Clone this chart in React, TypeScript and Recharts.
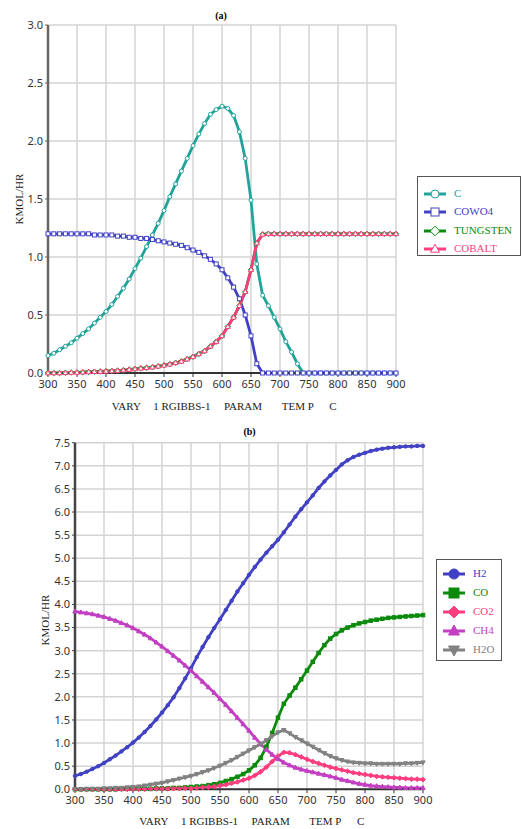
import { LineChart, Line, XAxis, YAxis, CartesianGrid } from 'recharts';

// temperature steps, C
const temps = [
    300, 310, 320, 330, 340, 350, 360, 370, 380, 390, 400, 410, 420, 430, 440, 450, 460, 470, 480, 490,
    500, 510, 520, 530, 540, 550, 560, 570, 580, 590, 600, 610, 620, 630, 640, 650, 660, 670, 680, 690,
    700, 710, 720, 730, 740, 750, 760, 770, 780, 790, 800, 810, 820, 830, 840, 850, 860, 870, 880, 890, 900,
];

const xTicks = [300, 350, 400, 450, 500, 550, 600, 650, 700, 750, 800, 850, 900];
const yTicksA = [0, 0.5, 1, 1.5, 2, 2.5, 3];
const yTicksB = [0, 0.5, 1, 1.5, 2, 2.5, 3, 3.5, 4, 4.5, 5, 5.5, 6, 6.5, 7, 7.5];

// (a) solids
const cSolid = [
    0.15, 0.17, 0.2, 0.23, 0.26, 0.3, 0.34, 0.38, 0.43, 0.48, 0.53, 0.59, 0.66, 0.73, 0.81, 0.9, 0.99, 1.09, 1.19, 1.29,
    1.4, 1.52, 1.63, 1.74, 1.85, 1.96, 2.06, 2.15, 2.23, 2.27, 2.3, 2.28, 2.22, 2.08, 1.85, 1.49, 0.94, 0.67, 0.58, 0.48,
    0.38, 0.27, 0.18, 0.08, 0, 0, 0, 0, 0, 0, 0, 0, 0, 0, 0, 0, 0, 0, 0, 0, 0,
];
const cowo4 = [
    1.2, 1.2, 1.2, 1.2, 1.2, 1.2, 1.2, 1.2, 1.19, 1.19, 1.19, 1.19, 1.18, 1.18, 1.17, 1.17, 1.16, 1.16, 1.15, 1.14,
    1.13, 1.12, 1.11, 1.1, 1.08, 1.06, 1.04, 1.01, 0.98, 0.94, 0.89, 0.82, 0.74, 0.64, 0.5, 0.32, 0.08, 0, 0, 0,
    0, 0, 0, 0, 0, 0, 0, 0, 0, 0, 0, 0, 0, 0, 0, 0, 0, 0, 0, 0, 0,
];
const tungsten = [
    0, 0, 0, 0.002, 0.004, 0.005, 0.007, 0.009, 0.011, 0.013, 0.015, 0.018, 0.021, 0.025, 0.03, 0.035, 0.04, 0.045, 0.05, 0.058,
    0.066, 0.076, 0.088, 0.1, 0.12, 0.14, 0.165, 0.19, 0.23, 0.27, 0.32, 0.4, 0.48, 0.58, 0.7, 0.89, 1.12, 1.195, 1.2, 1.2,
    1.2, 1.2, 1.2, 1.2, 1.2, 1.2, 1.2, 1.2, 1.2, 1.2, 1.2, 1.2, 1.2, 1.2, 1.2, 1.2, 1.2, 1.2, 1.2, 1.2, 1.2,
];
const cobalt = [
    0, 0, 0, 0.002, 0.004, 0.005, 0.007, 0.009, 0.011, 0.013, 0.015, 0.018, 0.021, 0.025, 0.03, 0.035, 0.04, 0.045, 0.05, 0.058,
    0.066, 0.076, 0.088, 0.1, 0.12, 0.14, 0.165, 0.19, 0.23, 0.27, 0.32, 0.4, 0.48, 0.58, 0.7, 0.89, 1.12, 1.195, 1.2, 1.2,
    1.2, 1.2, 1.2, 1.2, 1.2, 1.2, 1.2, 1.2, 1.2, 1.2, 1.2, 1.2, 1.2, 1.2, 1.2, 1.2, 1.2, 1.2, 1.2, 1.2, 1.2,
];

// (b) gases
const h2 = [
    0.29, 0.33, 0.38, 0.44, 0.5, 0.57, 0.65, 0.73, 0.82, 0.91, 1.01, 1.12, 1.24, 1.37, 1.51, 1.66, 1.82, 1.99, 2.19, 2.4,
    2.62, 2.86, 3.08, 3.29, 3.49, 3.68, 3.88, 4.08, 4.28, 4.46, 4.64, 4.81, 4.97, 5.12, 5.26, 5.4, 5.56, 5.73, 5.9, 6.06,
    6.21, 6.36, 6.52, 6.66, 6.79, 6.91, 7.03, 7.12, 7.19, 7.24, 7.28, 7.32, 7.35, 7.37, 7.39, 7.4, 7.41, 7.42, 7.42, 7.43, 7.43,
];
const co = [
    0, 0, 0, 0, 0, 0, 0, 0, 0.01, 0.01, 0.01, 0.01, 0.01, 0.01, 0.02, 0.02, 0.02, 0.03, 0.03, 0.04,
    0.05, 0.06, 0.07, 0.09, 0.11, 0.14, 0.18, 0.22, 0.27, 0.33, 0.41, 0.52, 0.68, 0.92, 1.22, 1.55, 1.85, 2.03, 2.2, 2.38,
    2.57, 2.76, 2.95, 3.12, 3.26, 3.36, 3.44, 3.5, 3.55, 3.59, 3.62, 3.65, 3.67, 3.69, 3.71, 3.72, 3.73, 3.74, 3.75, 3.76, 3.77,
];
const co2 = [
    0, 0, 0, 0, 0, 0, 0, 0, 0, 0, 0.005, 0.005, 0.005, 0.01, 0.01, 0.01, 0.01, 0.015, 0.015, 0.02,
    0.02, 0.03, 0.04, 0.05, 0.06, 0.08, 0.1, 0.13, 0.16, 0.2, 0.24, 0.3, 0.38, 0.48, 0.6, 0.72, 0.8, 0.79, 0.75, 0.7,
    0.65, 0.6, 0.56, 0.52, 0.48, 0.45, 0.42, 0.39, 0.36, 0.34, 0.32, 0.3, 0.28, 0.27, 0.26, 0.25, 0.24, 0.23, 0.22, 0.22, 0.21,
];
const ch4 = [
    3.85, 3.83, 3.81, 3.79, 3.76, 3.73, 3.69, 3.65, 3.6, 3.55, 3.49, 3.42, 3.35, 3.27, 3.18, 3.09, 2.99, 2.89, 2.79, 2.68,
    2.57, 2.45, 2.33, 2.21, 2.09, 1.96, 1.83, 1.69, 1.55, 1.41, 1.27, 1.12, 0.98, 0.86, 0.75, 0.66, 0.58, 0.52, 0.47, 0.43,
    0.4, 0.37, 0.34, 0.31, 0.28, 0.25, 0.21, 0.18, 0.15, 0.12, 0.1, 0.08, 0.07, 0.06, 0.05, 0.04, 0.04, 0.03, 0.03, 0.03, 0.03,
];
const h2o = [
    0, 0, 0.01, 0.01, 0.01, 0.02, 0.02, 0.03, 0.03, 0.04, 0.05, 0.06, 0.08, 0.1, 0.12, 0.14, 0.17, 0.2, 0.23, 0.26,
    0.29, 0.33, 0.37, 0.41, 0.46, 0.51, 0.57, 0.63, 0.7, 0.77, 0.84, 0.91, 0.98, 1.06, 1.15, 1.23, 1.28, 1.21, 1.13, 1.06,
    0.99, 0.92, 0.85, 0.78, 0.72, 0.67, 0.63, 0.6, 0.58, 0.57, 0.56, 0.56, 0.55, 0.55, 0.55, 0.55, 0.55, 0.56, 0.56, 0.57, 0.58,
];

const TEAL = '#22a39a';
const BLUE = '#4141c4';
const GREEN = '#0b8a0b';
const PINK = '#ff3d7f';
const MAGENTA = '#c23fc2';
const GREY = '#828282';

const dataA = temps.map((t, i) => ({ t, c: cSolid[i], cowo4: cowo4[i], w: tungsten[i], co: cobalt[i] }));
const dataB = temps.map((t, i) => ({ t, h2: h2[i], co: co[i], co2: co2[i], ch4: ch4[i], h2o: h2o[i] }));

type Shape = 'circle' | 'square' | 'diamond' | 'triangle' | 'down';

function marker(shape: Shape, cx: number, cy: number, s: number, color: string, fill: string, key?: any) {
    const h = s / 2;
    const common = { stroke: color, strokeWidth: 1, fill };
    if (shape === 'circle') return <circle key={key} cx={cx} cy={cy} r={h} {...common} />;
    if (shape === 'square') return <rect key={key} x={cx - h} y={cy - h} width={s} height={s} {...common} />;
    if (shape === 'diamond')
        return <polygon key={key} points={`${cx},${cy - h * 1.2} ${cx + h * 1.2},${cy} ${cx},${cy + h * 1.2} ${cx - h * 1.2},${cy}`} {...common} />;
    if (shape === 'triangle')
        return <polygon key={key} points={`${cx},${cy - h * 1.2} ${cx + h * 1.1},${cy + h * 0.8} ${cx - h * 1.1},${cy + h * 0.8}`} {...common} />;
    return <polygon key={key} points={`${cx},${cy + h * 1.2} ${cx + h * 1.1},${cy - h * 0.8} ${cx - h * 1.1},${cy - h * 0.8}`} {...common} />;
}

const dot = (shape: Shape, color: string, fill: string, s: number) => (p: any) => {
    if (p.cx == null || p.cy == null) return <g key={p.index} />;
    return marker(shape, p.cx, p.cy, s, color, fill, p.index);
};

const tickStyle = { fontSize: 11, fill: '#333', fontFamily: 'Noto Sans' };
const serif = '"Liberation Serif", "Times New Roman", serif';

interface LegendItem { name: string; color: string; shape: Shape; }

const legendA: LegendItem[] = [
    { name: 'C', color: TEAL, shape: 'circle' },
    { name: 'COWO4', color: BLUE, shape: 'square' },
    { name: 'TUNGSTEN', color: GREEN, shape: 'diamond' },
    { name: 'COBALT', color: PINK, shape: 'triangle' },
];
const legendB: LegendItem[] = [
    { name: 'H2', color: BLUE, shape: 'circle' },
    { name: 'CO', color: GREEN, shape: 'square' },
    { name: 'CO2', color: PINK, shape: 'diamond' },
    { name: 'CH4', color: MAGENTA, shape: 'triangle' },
    { name: 'H2O', color: GREY, shape: 'down' },
];

function LegendBox({ items, left, top, width, height, rowGap, firstRow, filled, size }: {
    items: LegendItem[]; left: number; top: number; width: number; height: number;
    rowGap: number; firstRow: number; filled: boolean; size: number;
}) {
    return (
        <div style={{ position: 'absolute', left, top, width, height, border: '1px solid #555', boxSizing: 'border-box', background: '#fff' }}>
            {items.map((it, i) => (
                <div key={it.name} style={{ position: 'absolute', left: 0, top: firstRow + i * rowGap - 8, height: 16, width: width - 2 }}>
                    <svg width={32} height={16} style={{ position: 'absolute', left: 4, top: 0 }}>
                        <line x1={2} y1={8} x2={24} y2={8} stroke={it.color} strokeWidth={3} />
                        {marker(it.shape, 13, 8, size, it.color, filled ? it.color : '#fff')}
                    </svg>
                    <span style={{ position: 'absolute', left: 36, top: 1, fontFamily: serif, fontSize: 11, color: it.color, whiteSpace: 'nowrap' }}>{it.name}</span>
                </div>
            ))}
        </div>
    );
}

function XLabel({ left, top }: { left: number; top: number }) {
    const words: [string, number][] = [['VARY', 0], ['1 RGIBBS-1', 41.6], ['PARAM', 112.3], ['TEM P', 170], ['C', 217.6]];
    return (
        <div style={{ position: 'absolute', left, top, fontFamily: serif, fontSize: 11, color: '#222' }}>
            {words.map(([w, x]) => (
                <span key={w} style={{ position: 'absolute', left: x, top: 0, whiteSpace: 'pre' }}>{w}</span>
            ))}
        </div>
    );
}

function YLabel({ cx, cy }: { cx: number; cy: number }) {
    return (
        <div style={{ position: 'absolute', left: cx - 40, top: cy - 7, width: 80, textAlign: 'center', transform: 'rotate(-90deg)', fontFamily: serif, fontSize: 11, color: '#222', lineHeight: '14px' }}>
            KMOL/HR
        </div>
    );
}

export default function App() {
    return (
        <div style={{ position: 'absolute', left: 0, top: 0, width: 523, height: 829, background: '#fff', overflow: 'hidden' }}>
            <div style={{ position: 'absolute', left: 0, top: 10, width: 442, textAlign: 'center', fontFamily: serif, fontSize: 10, fontWeight: 'bold' }}>(a)</div>
            <div style={{ position: 'absolute', left: 0, top: 0 }}>
                <LineChart width={523} height={410} data={dataA} margin={{ top: 25, right: 127, bottom: 12, left: 8 }}>
                    <CartesianGrid stroke="#d3d3d3" strokeWidth={1.5} />
                    <XAxis type="number" dataKey="t" domain={[300, 900]} ticks={xTicks} interval={0} tick={tickStyle}
                        axisLine={{ stroke: '#333', strokeWidth: 2 }} tickLine={{ stroke: '#333' }} tickSize={4} tickMargin={3} height={25} />
                    <YAxis type="number" domain={[0, 3]} ticks={yTicksA} interval={0} tick={tickStyle} width={40}
                        tickFormatter={(v: number) => v.toFixed(1)} axisLine={{ stroke: '#666', strokeWidth: 2.5 }}
                        tickLine={{ stroke: '#666' }} tickSize={3} />
                    <Line type="linear" dataKey="c" stroke={TEAL} strokeWidth={2.8} dot={dot('circle', TEAL, '#fff', 4)} activeDot={false} isAnimationActive={false} />
                    <Line type="linear" dataKey="cowo4" stroke={BLUE} strokeWidth={2.8} dot={dot('square', BLUE, '#fff', 4)} activeDot={false} isAnimationActive={false} />
                    <Line type="linear" dataKey="w" stroke={GREEN} strokeWidth={2.8} dot={dot('diamond', GREEN, '#fff', 4.5)} activeDot={false} isAnimationActive={false} />
                    <Line type="linear" dataKey="co" stroke={PINK} strokeWidth={2.8} dot={dot('triangle', PINK, '#fff', 4.5)} activeDot={false} isAnimationActive={false} />
                </LineChart>
            </div>
            <YLabel cx={18.5} cy={199} />
            <XLabel left={111.7} top={400} />
            <LegendBox items={legendA} left={417} top={176} width={104} height={80} rowGap={18.4} firstRow={17} filled={false} size={8} />

            <div style={{ position: 'absolute', left: 0, top: 426, width: 499, textAlign: 'center', fontFamily: serif, fontSize: 10, fontWeight: 'bold' }}>(b)</div>
            <div style={{ position: 'absolute', left: 0, top: 417 }}>
                <LineChart width={523} height={410} data={dataB} margin={{ top: 25.7, right: 100, bottom: 12.7, left: 35 }}>
                    <CartesianGrid stroke="#d3d3d3" strokeWidth={1.5} />
                    <XAxis type="number" dataKey="t" domain={[300, 900]} ticks={xTicks} interval={0} tick={tickStyle}
                        axisLine={{ stroke: '#333', strokeWidth: 2 }} tickLine={{ stroke: '#333' }} tickSize={4} tickMargin={3} height={25} />
                    <YAxis type="number" domain={[0, 7.5]} ticks={yTicksB} interval={0} tick={tickStyle} width={40}
                        tickFormatter={(v: number) => v.toFixed(1)} axisLine={{ stroke: '#444', strokeWidth: 2.5 }}
                        tickLine={{ stroke: '#444' }} tickSize={3} />
                    <Line type="linear" dataKey="h2" stroke={BLUE} strokeWidth={2.8} dot={dot('circle', BLUE, BLUE, 3.5)} activeDot={false} isAnimationActive={false} />
                    <Line type="linear" dataKey="co" stroke={GREEN} strokeWidth={2.8} dot={dot('square', GREEN, GREEN, 3.5)} activeDot={false} isAnimationActive={false} />
                    <Line type="linear" dataKey="co2" stroke={PINK} strokeWidth={2.8} dot={dot('diamond', PINK, PINK, 4)} activeDot={false} isAnimationActive={false} />
                    <Line type="linear" dataKey="ch4" stroke={MAGENTA} strokeWidth={2.8} dot={dot('triangle', MAGENTA, MAGENTA, 4)} activeDot={false} isAnimationActive={false} />
                    <Line type="linear" dataKey="h2o" stroke={GREY} strokeWidth={2.8} dot={dot('down', GREY, GREY, 4)} activeDot={false} isAnimationActive={false} />
                </LineChart>
            </div>
            <YLabel cx={45} cy={620} />
            <XLabel left={139.3} top={815} />
            <LegendBox items={legendB} left={436} top={559} width={66} height={102} rowGap={18.9} firstRow={14} filled={true} size={10} />
        </div>
    );
}
